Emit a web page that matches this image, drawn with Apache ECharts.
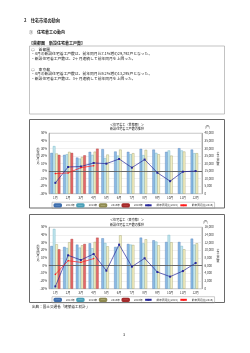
<!DOCTYPE html>
<html><head><meta charset="utf-8">
<script src="https://cdn.jsdelivr.net/npm/echarts@6/dist/echarts.min.js"></script>
<style>html,body{margin:0;padding:0;background:#fff;}#c{width:250px;height:353px;}</style>
</head><body><div id="c"></div>
<script>
const months = ['1月','2月','3月','4月','5月','6月','7月','8月','9月','10月','11月','12月'];
const seriesNames = ['2013年','2014年','2015年','2016年','前年同月比(2015)','前年同月比(2016)'];

// 首都圏 (戸)
const kanto2013 = [27000,25700,23900,27700,29500,27900,27700,29700,29200,27700,30100,29200];
const kanto2014 = [31500,26100,23200,25700,23600,25200,26100,25500,27000,28600,28600,26800];
const kanto2015 = [26600,27700,24300,27800,25900,29200,26800,29000,26100,25200,27900,26800];
const kanto2016 = [25700,27000,25400,29792,null,null,null,null,null,null,null,null];
// 首都圏 前年同月比 (%)
const kantoYoY2015 = [-15.6,5.4,6.0,10.7,9.8,16.0,4.5,15.2,-2.2,-13.4,-0.9,0.0];
const kantoYoY2016 = [-3.4,-2.5,4.5,7.1,null,null,null,null,null,null,null,null];

// 東京都 (戸)
const tokyo2013 = [11130,10870,11480,11830,13130,10870,11650,13300,12610,12170,12170,13040];
const tokyo2014 = [15560,10600,10700,10520,11910,10950,11480,11800,12260,14000,11130,11480];
const tokyo2015 = [11570,12090,11300,12170,11040,13900,11390,12870,11300,12090,10260,11830];
const tokyo2016 = [10260,12960,11650,13295,null,null,null,null,null,null,null,null];
// 東京都 前年同月比 (%)
const tokyoYoY2015 = [-27.0,13.5,7.4,15.2,-6.5,27.4,-1.3,9.6,-8.3,-14.3,-7.0,3.5];
const tokyoYoY2016 = [-11.3,6.5,4.3,9.2,null,null,null,null,null,null,null,null];

const FF = "'Noto Sans CJK JP','Noto Sans',sans-serif";
const barStyles = [
  {color:'#8dbbe6', borderColor:'#3f6fae'},
  {color:'#c8e8f0', borderColor:'#4aa0b8'},
  {color:'#f3f1c6', borderColor:'#8f8a50'},
  {color:'#e56a6a', borderColor:'#a52a2a'}
];
const lineColors = ['#27279a','#ff1a1a'];

function grid(top, h){ return {left:49, right:48, top:top, height:h, show:true, borderColor:'#8a8a8a', borderWidth:0.6, backgroundColor:'#fff'}; }
function xAx(gi){ return {type:'category', gridIndex:gi, data:months, axisLine:{show:true,lineStyle:{color:'#8a8a8a',width:0.6}}, axisTick:{show:false}, axisLabel:{fontSize:3,color:'#333',margin:2.5,fontFamily:FF}}; }
function yPct(gi){ return {type:'value', gridIndex:gi, min:-30, max:50, interval:10, position:'left',
  axisLine:{show:true,lineStyle:{color:'#8a8a8a',width:0.6}}, axisTick:{show:false},
  axisLabel:{fontSize:3,color:'#333',margin:2,formatter:'{value}%',fontFamily:FF},
  splitLine:{show:true,lineStyle:{color:'#e2e2e2',width:0.5}}}; }
function yCnt(gi, max, step){ return {type:'value', gridIndex:gi, min:0, max:max, interval:step, position:'right',
  axisLine:{show:true,lineStyle:{color:'#8a8a8a',width:0.6}}, axisTick:{show:false},
  axisLabel:{fontSize:3,color:'#333',margin:2.5,fontFamily:FF,formatter:v=>v.toLocaleString('en-US')},
  splitLine:{show:false}}; }

function buildSeries(gi, bars, yoy){
  const out = [];
  bars.forEach((d,i)=>{
    out.push({name:seriesNames[i], type:'bar', xAxisIndex:gi, yAxisIndex:gi*2+1, data:d,
      barCategoryGap:'22%', barGap:'0%', itemStyle:Object.assign({borderWidth:0.35}, barStyles[i]), z:2, silent:true});
  });
  yoy.forEach((d,i)=>{
    const s = {name:seriesNames[4+i], type:'line', xAxisIndex:gi, yAxisIndex:gi*2, data:d,
      symbol: i===0?'rect':'circle', symbolSize: i===0?2:1.6, showSymbol:true,
      lineStyle:{color:lineColors[i],width:0.7}, itemStyle:{color:lineColors[i]}, z:5, silent:true};
    if(i===0){ s.markLine = {silent:true, symbol:['none','none'], label:{show:false}, lineStyle:{color:'#555',width:0.8,type:'solid'}, data:[{yAxis:0}], z:3}; }
    out.push(s);
  });
  return out;
}

function legend(top){ return {top:top, left:52, itemWidth:6.5, itemHeight:2.2, itemGap:1.5, padding:[1,1.5],
  borderColor:'#9a9a9a', borderWidth:0.5, textStyle:{fontSize:2.7,color:'#333',fontFamily:FF}, data:seriesNames}; }

function txt(x,y,s,size,extra){ return {type:'text', left:x, top:y, style:Object.assign({text:s, fontSize:size, fontFamily:FF, fill:'#222'}, extra||{})}; }
function vtxt(x,y,s){ return {type:'text', x:x, y:y, style:{text:s.split('').join('\n'), fontSize:3, lineHeight:3.2, fontFamily:FF, fill:'#333', align:'center', verticalAlign:'middle'}}; }
function box(x,y,w,h,c,lw){ return {type:'rect', shape:{x:x,y:y,width:w,height:h}, style:{fill:null, stroke:c, lineWidth:lw}, z:-1}; }

const chart = echarts.init(document.getElementById('c'), null, {renderer:'canvas'});
const option = {
  animation:false,
  backgroundColor:'#fff',
  grid:[grid(133.3,60.4), grid(227.3,61.4)],
  xAxis:[xAx(0), xAx(1)],
  yAxis:[yPct(0), yCnt(0,40000,5000), yPct(1), yCnt(1,16000,2000)],
  legend:[legend(202.2), legend(296.7)],
  series:[].concat(
    buildSeries(0,[kanto2013,kanto2014,kanto2015,kanto2016],[kantoYoY2015,kantoYoY2016]),
    buildSeries(1,[tokyo2013,tokyo2014,tokyo2015,tokyo2016],[tokyoYoY2015,tokyoYoY2016])
  ),
  graphic:[
    txt(24,18.5,'2　住宅市場の動向',4.2,{fontWeight:'bold'}),
    txt(29,30,'①　住宅着工の動向',4,{fontWeight:'bold'}),
    txt(29,41,'【首都圏　新設住宅着工戸数】',4,{fontWeight:'bold'}),
    box(29.5,46,195,68,'#9a9a9a',0.6),
    txt(31,47.5,'○　首都圏',3.8),
    txt(31,52,'・4月の新設住宅着工戸数は、前年同月比7.1%増の29,792戸となった。',3.8),
    txt(31,57,'・新設住宅着工戸数は、2ヶ月連続して前年同月を上回った。',3.8),
    txt(31,67.5,'○　東京都',3.8),
    txt(31,72,'・4月の新設住宅着工戸数は、前年同月比9.2%増の13,295戸となった。',3.8),
    txt(31,77,'・新設住宅着工戸数は、3ヶ月連続して前年同月を上回った。',3.8),
    box(29.5,119.5,195,88.5,'#6a6a6a',1),
    {type:'text', x:127, y:122.5, style:{text:'＜住宅着工（首都圏）＞\n新設住宅着工戸数の推移', fontSize:3.1, lineHeight:4.4, align:'center', fontFamily:FF, fill:'#222'}},
    {type:'text', x:205, y:125, style:{text:'(戸)', fontSize:3, fontFamily:FF, fill:'#333'}},
    vtxt(38,156,'前年同月比'),
    vtxt(218,159,'着工戸数'),
    box(29.5,214.5,195,88,'#6a6a6a',1),
    {type:'text', x:127, y:218, style:{text:'＜住宅着工（東京都）＞\n新設住宅着工戸数の推移', fontSize:3.1, lineHeight:4.4, align:'center', fontFamily:FF, fill:'#222'}},
    {type:'text', x:203, y:220, style:{text:'(戸)', fontSize:3, fontFamily:FF, fill:'#333'}},
    vtxt(38,253,'前年同月比'),
    vtxt(218,256,'着工戸数'),
    txt(32,304.5,'出典：国土交通省「建築着工統計」',3.6),
    txt(123,332,'3',4)
  ]
};
chart.setOption(option);
</script></body></html>
